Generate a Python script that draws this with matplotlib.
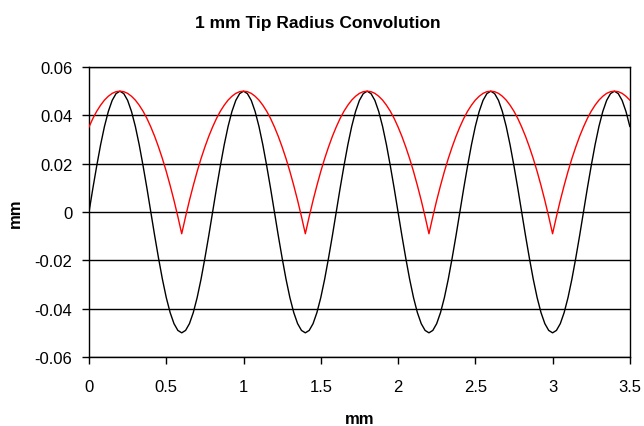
import numpy as np
import matplotlib
matplotlib.use('Agg')
import matplotlib.pyplot as plt

plt.rcParams['font.family'] = ['Liberation Sans', 'DejaVu Sans']

# posisi sampel sepanjang profil (mm), tiap 0.025 mm
x_mm = np.linspace(0, 3.5, 141)

# profil permukaan (hitam)
profile = [
    0.0000, 0.0098, 0.0191, 0.0278, 0.0354, 0.0416, 0.0462, 0.0490,
    0.0500, 0.0490, 0.0462, 0.0416, 0.0354, 0.0278, 0.0191, 0.0098,
    0.0000, -0.0098, -0.0191, -0.0278, -0.0354, -0.0416, -0.0462, -0.0490,
    -0.0500, -0.0490, -0.0462, -0.0416, -0.0354, -0.0278, -0.0191, -0.0098,
    0.0000, 0.0098, 0.0191, 0.0278, 0.0354, 0.0416, 0.0462, 0.0490,
    0.0500, 0.0490, 0.0462, 0.0416, 0.0354, 0.0278, 0.0191, 0.0098,
    0.0000, -0.0098, -0.0191, -0.0278, -0.0354, -0.0416, -0.0462, -0.0490,
    -0.0500, -0.0490, -0.0462, -0.0416, -0.0354, -0.0278, -0.0191, -0.0098,
    0.0000, 0.0098, 0.0191, 0.0278, 0.0354, 0.0416, 0.0462, 0.0490,
    0.0500, 0.0490, 0.0462, 0.0416, 0.0354, 0.0278, 0.0191, 0.0098,
    0.0000, -0.0098, -0.0191, -0.0278, -0.0354, -0.0416, -0.0462, -0.0490,
    -0.0500, -0.0490, -0.0462, -0.0416, -0.0354, -0.0278, -0.0191, -0.0098,
    0.0000, 0.0098, 0.0191, 0.0278, 0.0354, 0.0416, 0.0462, 0.0490,
    0.0500, 0.0490, 0.0462, 0.0416, 0.0354, 0.0278, 0.0191, 0.0098,
    0.0000, -0.0098, -0.0191, -0.0278, -0.0354, -0.0416, -0.0462, -0.0490,
    -0.0500, -0.0490, -0.0462, -0.0416, -0.0354, -0.0278, -0.0191, -0.0098,
    0.0000, 0.0098, 0.0191, 0.0278, 0.0354, 0.0416, 0.0462, 0.0490,
    0.0500, 0.0490, 0.0462, 0.0416, 0.0354,
]

# hasil konvolusi ujung jari-jari 1 mm (merah)
convolved = [
    0.0352, 0.0387, 0.0417, 0.0442, 0.0463, 0.0479, 0.0491, 0.0498,
    0.0500, 0.0498, 0.0491, 0.0479, 0.0463, 0.0442, 0.0417, 0.0387,
    0.0352, 0.0313, 0.0269, 0.0221, 0.0168, 0.0110, 0.0048, -0.0019,
    -0.0090, -0.0019, 0.0048, 0.0110, 0.0168, 0.0221, 0.0269, 0.0313,
    0.0352, 0.0387, 0.0417, 0.0442, 0.0463, 0.0479, 0.0491, 0.0498,
    0.0500, 0.0498, 0.0491, 0.0479, 0.0463, 0.0442, 0.0417, 0.0387,
    0.0352, 0.0313, 0.0269, 0.0221, 0.0168, 0.0110, 0.0048, -0.0019,
    -0.0090, -0.0019, 0.0048, 0.0110, 0.0168, 0.0221, 0.0269, 0.0313,
    0.0352, 0.0387, 0.0417, 0.0442, 0.0463, 0.0479, 0.0491, 0.0498,
    0.0500, 0.0498, 0.0491, 0.0479, 0.0463, 0.0442, 0.0417, 0.0387,
    0.0352, 0.0313, 0.0269, 0.0221, 0.0168, 0.0110, 0.0048, -0.0019,
    -0.0090, -0.0019, 0.0048, 0.0110, 0.0168, 0.0221, 0.0269, 0.0313,
    0.0352, 0.0387, 0.0417, 0.0442, 0.0463, 0.0479, 0.0491, 0.0498,
    0.0500, 0.0498, 0.0491, 0.0479, 0.0463, 0.0442, 0.0417, 0.0387,
    0.0352, 0.0313, 0.0269, 0.0221, 0.0168, 0.0110, 0.0048, -0.0019,
    -0.0090, -0.0019, 0.0048, 0.0110, 0.0168, 0.0221, 0.0269, 0.0313,
    0.0352, 0.0387, 0.0417, 0.0442, 0.0463, 0.0479, 0.0491, 0.0498,
    0.0500, 0.0498, 0.0491, 0.0479, 0.0463,
]

x_ticks = [0, 0.5, 1, 1.5, 2, 2.5, 3, 3.5]
x_labels = ['0', '0.5', '1', '1.5', '2', '2.5', '3', '3.5']
y_ticks = [-0.06, -0.04, -0.02, 0, 0.02, 0.04, 0.06]
y_labels = ['-0.06', '-0.04', '-0.02', '0', '0.02', '0.04', '0.06']

fig = plt.figure(figsize=(6.44, 4.27), dpi=100)
ax = fig.add_axes([0.1382, 0.1616, 0.8398, 0.6791])

ax.plot(x_mm, profile, color='black', lw=1.0, zorder=3)
ax.plot(x_mm, convolved, color='red', lw=1.0, zorder=4)

ax.set_xlim(0, 3.5)
ax.set_ylim(-0.06, 0.06)
ax.set_xticks(x_ticks)
ax.set_xticklabels(x_labels)
ax.set_yticks(y_ticks)
ax.set_yticklabels(y_labels)
ax.tick_params(direction='out', length=5, width=1, labelsize=12, colors='black')
ax.tick_params(axis='x', pad=11)
ax.tick_params(axis='y', pad=7)

ax.yaxis.grid(True, color='black', lw=1)
ax.set_axisbelow(True)
for s in ax.spines.values():
    s.set_color('black')
    s.set_linewidth(1)

ax.set_xlabel('mm', fontsize=12, fontweight='bold', labelpad=12)
ax.set_ylabel('mm', fontsize=12, fontweight='bold', labelpad=8)
fig.text(0.493, 0.945, '1 mm Tip Radius Convolution', ha='center', va='center',
         fontsize=12.5, fontweight='bold')

fig.savefig('out.png', dpi=100, facecolor='white')
